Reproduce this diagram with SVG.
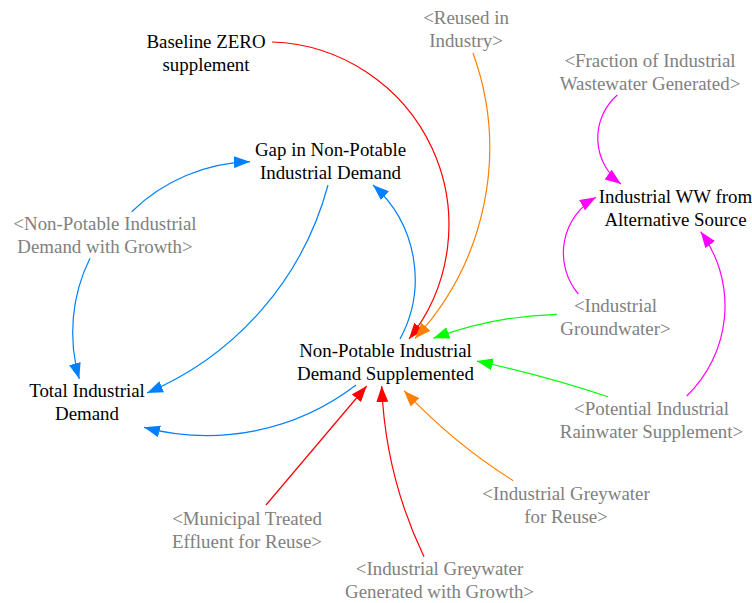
<svg xmlns="http://www.w3.org/2000/svg" width="752" height="603" viewBox="0 0 752 603">
  <style>
    text { font-family: 'Liberation Serif', 'Times New Roman', serif; font-size: 18.9px; text-anchor: middle; }
    .var { fill: #000000; }
    .shadow { fill: #808080; }
    .link { fill: none; stroke-width: 1.2; }
    .blue { stroke: #0080ff; }
    .red { stroke: #ff0000; }
    .orange { stroke: #ff8000; }
    .green { stroke: #00ff00; }
    .magenta { stroke: #ff00ff; }
  </style>
  <defs>
    <marker id="ah-blue" viewBox="0 0 16 12" refX="16" refY="6" markerWidth="16" markerHeight="12" markerUnits="userSpaceOnUse" orient="auto">
      <path d="M0,0 L16,6 L0,12 z" fill="#0080ff"/>
    </marker>
    <marker id="ah-red" viewBox="0 0 16 12" refX="16" refY="6" markerWidth="16" markerHeight="12" markerUnits="userSpaceOnUse" orient="auto">
      <path d="M0,0 L16,6 L0,12 z" fill="#ff0000"/>
    </marker>
    <marker id="ah-orange" viewBox="0 0 16 12" refX="16" refY="6" markerWidth="16" markerHeight="12" markerUnits="userSpaceOnUse" orient="auto">
      <path d="M0,0 L16,6 L0,12 z" fill="#ff8000"/>
    </marker>
    <marker id="ah-green" viewBox="0 0 16 12" refX="16" refY="6" markerWidth="16" markerHeight="12" markerUnits="userSpaceOnUse" orient="auto">
      <path d="M0,0 L16,6 L0,12 z" fill="#00ff00"/>
    </marker>
    <marker id="ah-magenta" viewBox="0 0 16 12" refX="16" refY="6" markerWidth="16" markerHeight="12" markerUnits="userSpaceOnUse" orient="auto">
      <path d="M0,0 L16,6 L0,12 z" fill="#ff00ff"/>
    </marker>
  </defs>

  <!-- causal links -->
  <g id="connectors">
    <path class="link red" d="M272,42 A183,183 0 0 1 409,339" marker-end="url(#ah-red)"/>
    <path class="link orange" d="M473,53 A280,280 0 0 1 415,338.5" marker-end="url(#ah-orange)"/>
    <path class="link blue" d="M400,339 A126,126 0 0 0 373,185" marker-end="url(#ah-blue)"/>
    <path class="link blue" d="M328,185 A313.5,313.5 0 0 1 147,393" marker-end="url(#ah-blue)"/>
    <path class="link blue" d="M131.7,211.7 A176.6,176.6 0 0 1 250,161.7" marker-end="url(#ah-blue)"/>
    <path class="link blue" d="M90,258.3 A167,167 0 0 0 79.3,379" marker-end="url(#ah-blue)"/>
    <path class="link blue" d="M356,385 A244.6,244.6 0 0 1 144,427.3" marker-end="url(#ah-blue)"/>
    <path class="link green" d="M557,314.3 Q495.2,315.7 433.3,338.3" marker-end="url(#ah-green)"/>
    <path class="link green" d="M608,396.7 Q543,375 476.7,361" marker-end="url(#ah-green)"/>
    <path class="link magenta" d="M617.3,95 A57.1,57.1 0 0 0 621,184" marker-end="url(#ah-magenta)"/>
    <path class="link magenta" d="M578.3,294 A63.8,63.8 0 0 1 596,197.3" marker-end="url(#ah-magenta)"/>
    <path class="link magenta" d="M686.7,396 A125.2,125.2 0 0 0 700.7,231.7" marker-end="url(#ah-magenta)"/>
    <path class="link red" d="M266,505 L366.7,386" marker-end="url(#ah-red)"/>
    <path class="link red" d="M424,556.7 A435.4,435.4 0 0 1 381.7,386" marker-end="url(#ah-red)"/>
    <path class="link orange" d="M513.3,480.7 Q454.7,444.3 404,390.7" marker-end="url(#ah-orange)"/>
  </g>

  <!-- variables -->
  <g id="baseline-zero-supplement">
    <text class="var" x="206" y="48">Baseline ZERO</text>
    <text class="var" x="206" y="71">supplement</text>
  </g>
  <g id="reused-in-industry">
    <text class="shadow" x="466" y="23.5">&lt;Reused in</text>
    <text class="shadow" x="466" y="46.5">Industry&gt;</text>
  </g>
  <g id="fraction-industrial-wastewater">
    <text class="shadow" x="650" y="67">&lt;Fraction of Industrial</text>
    <text class="shadow" x="650" y="90">Wastewater Generated&gt;</text>
  </g>
  <g id="industrial-ww-alternative">
    <text class="var" x="675.5" y="202.5">Industrial WW from</text>
    <text class="var" x="675.5" y="225.5">Alternative Source</text>
  </g>
  <g id="gap-non-potable">
    <text class="var" x="330.5" y="156">Gap in Non-Potable</text>
    <text class="var" x="330.5" y="179">Industrial Demand</text>
  </g>
  <g id="non-potable-demand-growth">
    <text class="shadow" x="105" y="230">&lt;Non-Potable Industrial</text>
    <text class="shadow" x="105" y="253">Demand with Growth&gt;</text>
  </g>
  <g id="total-industrial-demand">
    <text class="var" x="87" y="396.5">Total Industrial</text>
    <text class="var" x="87" y="419.5">Demand</text>
  </g>
  <g id="non-potable-supplemented">
    <text class="var" x="385.5" y="357">Non-Potable Industrial</text>
    <text class="var" x="385.5" y="380">Demand Supplemented</text>
  </g>
  <g id="industrial-groundwater">
    <text class="shadow" x="615.5" y="311.5">&lt;Industrial</text>
    <text class="shadow" x="615.5" y="334.5">Groundwater&gt;</text>
  </g>
  <g id="potential-rainwater">
    <text class="shadow" x="651.5" y="415">&lt;Potential Industrial</text>
    <text class="shadow" x="651.5" y="438">Rainwater Supplement&gt;</text>
  </g>
  <g id="greywater-for-reuse">
    <text class="shadow" x="566" y="500">&lt;Industrial Greywater</text>
    <text class="shadow" x="566" y="523">for Reuse&gt;</text>
  </g>
  <g id="municipal-treated-effluent">
    <text class="shadow" x="247" y="525">&lt;Municipal Treated</text>
    <text class="shadow" x="247" y="548">Effluent for Reuse&gt;</text>
  </g>
  <g id="greywater-generated-growth">
    <text class="shadow" x="439.5" y="575">&lt;Industrial Greywater</text>
    <text class="shadow" x="439.5" y="598">Generated with Growth&gt;</text>
  </g>
</svg>
